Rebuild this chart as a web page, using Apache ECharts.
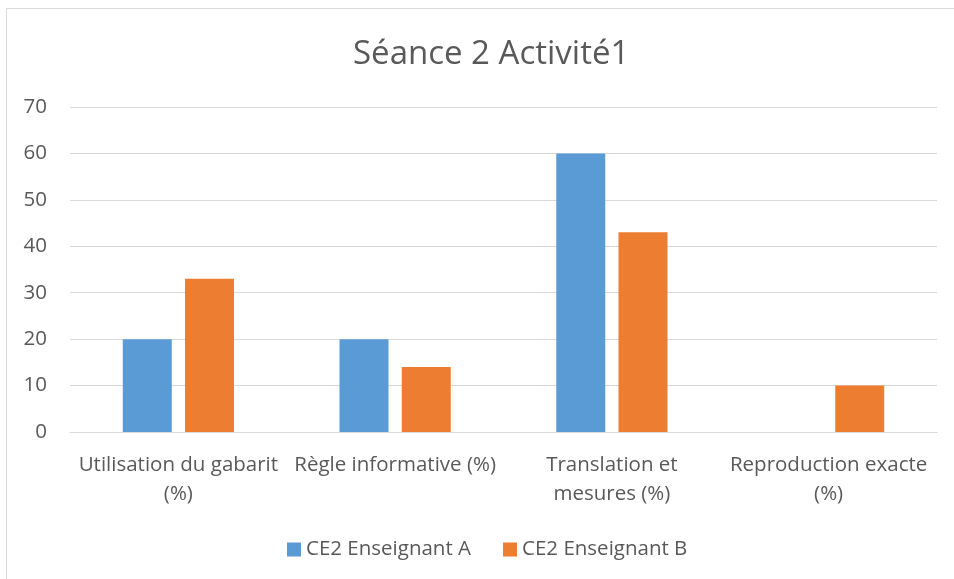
<!DOCTYPE html>
<html>
<head>
<meta charset="utf-8">
<script src="https://cdn.jsdelivr.net/npm/echarts@6/dist/echarts.min.js"></script>
<style>
  html, body { margin: 0; padding: 0; background: #fff; }
  #frame {
    position: absolute; left: 6px; top: 8px; width: 960px; height: 590px;
    border: 1px solid #d9d9d9; box-sizing: border-box;
  }
  #mychart { position: absolute; left: 0; top: 0; width: 954px; height: 579px; }
</style>
</head>
<body>
<div id="frame"></div>
<div id="mychart"></div>
<script>
  var categories = ['Utilisation du gabarit\n(%)', 'Règle informative (%)', 'Translation et\nmesures (%)', 'Reproduction exacte\n(%)']
  var seriesNames = ['CE2 Enseignant A', 'CE2 Enseignant B']
  var valuesA = [20, 20, 60, 0]
  var valuesB = [33, 14, 43, 10]

  var font = 'Open Sans, Noto Sans, sans-serif'
  var chart = echarts.init(document.getElementById('mychart'))
  chart.setOption({
    animation: false,
    color: ['#5b9bd5', '#ed7d31'],
    title: {
      text: 'Séance 2 Activité1',
      left: 348,
      top: 33,
      textStyle: { fontFamily: font, fontSize: 33, fontWeight: 'normal', color: '#595959' }
    },
    legend: {
      data: seriesNames,
      left: 287,
      top: 539,
      padding: 0,
      icon: 'rect',
      itemWidth: 14,
      itemHeight: 14,
      itemGap: 32,
      itemTextGap: 4,
      textStyle: { fontFamily: font, fontSize: 20.5, color: '#595959' }
    },
    grid: { left: 70, right: 17, top: 107, bottom: 147 },
    xAxis: {
      type: 'category',
      data: categories,
      axisLine: { lineStyle: { color: '#d9d9d9', width: 1 } },
      axisTick: { show: false },
      axisLabel: { fontFamily: font, fontSize: 20.5, color: '#595959', margin: 19, lineHeight: 29, interval: 0 }
    },
    yAxis: {
      type: 'value',
      min: 0,
      max: 70,
      interval: 10,
      axisLine: { show: false },
      axisTick: { show: false },
      splitLine: { lineStyle: { color: '#d9d9d9', width: 1 } },
      axisLabel: { fontFamily: font, fontSize: 20.5, color: '#595959', margin: 23 }
    },
    series: [
      { name: seriesNames[0], type: 'bar', data: valuesA, barWidth: 49, barGap: '27%' },
      { name: seriesNames[1], type: 'bar', data: valuesB, barWidth: 49, barGap: '27%' }
    ]
  })
</script>
</body>
</html>
